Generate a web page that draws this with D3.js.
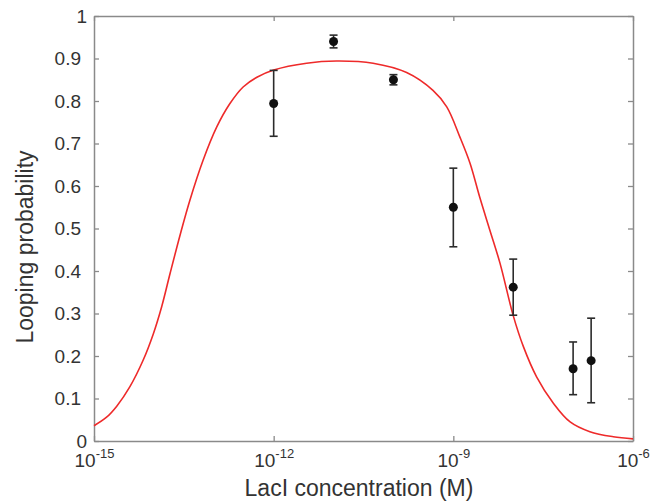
<!DOCTYPE html>
<html>
<head>
<meta charset="utf-8">
<script src="https://cdn.jsdelivr.net/npm/d3@7"></script>
<style>
  body { margin: 0; background: #fff; }
  svg { display: block; font-family: "Liberation Sans", Arial, sans-serif; }
  .tick-label { fill: #333; font-size: 19px; }
  .axis-title { fill: #333; font-size: 23px; }
</style>
</head>
<body>
<svg id="chart"></svg>
<script>
// measured points: LacI concentration (M), looping probability, error bar ends
const conc = [1e-12, 1e-11, 1e-10, 1e-9, 1e-8, 1e-7, 2e-7]
const prob = [0.794, 0.940, 0.850, 0.550, 0.362, 0.170, 0.189]
const errLow = [0.717, 0.925, 0.838, 0.457, 0.296, 0.109, 0.090]
const errHigh = [0.872, 0.955, 0.862, 0.642, 0.428, 0.233, 0.289]

// fitted model curve (log10 of concentration, probability)
const fitLogConc = [-15, -14.79, -14.62, -14.4, -14.18, -14.01, -13.87, -13.73, -13.56, -13.4,
  -13.18, -12.95, -12.73, -12.51, -12.28, -12.0, -11.45, -10.95, -10.34, -9.78, -9.34, -9.11,
  -8.89, -8.72, -8.56, -8.39, -8.22, -8.0, -7.83, -7.61, -7.33, -7.05, -6.72, -6.33, -6]
const fitProb = [0.036, 0.056, 0.082, 0.128, 0.19, 0.252, 0.316, 0.394, 0.486, 0.566,
  0.66, 0.739, 0.794, 0.833, 0.856, 0.873, 0.889, 0.894, 0.889, 0.867, 0.825, 0.786,
  0.715, 0.653, 0.574, 0.496, 0.418, 0.295, 0.222, 0.151, 0.089, 0.045, 0.022, 0.01, 0.005]

const xTicks = [1e-15, 1e-12, 1e-9, 1e-6]
const xTickExp = ['-15', '-12', '-9', '-6']
const yTicks = [0, 0.1, 0.2, 0.3, 0.4, 0.5, 0.6, 0.7, 0.8, 0.9, 1]

const config = {
  width: 659, height: 503,
  margin: {top: 16, right: 26, bottom: 62, left: 94}
}

const innerW = config.width - config.margin.left - config.margin.right
const innerH = config.height - config.margin.top - config.margin.bottom

const svg = d3.select('#chart')
  .attr('width', config.width)
  .attr('height', config.height)

const chart = svg.append('g')
  .attr('transform', `translate(${config.margin.left},${config.margin.top})`)

const xScale = d3.scaleLog().domain([1e-15, 1e-6]).range([0, innerW])
const yScale = d3.scaleLinear().domain([0, 1]).range([innerH, 0])

const axisColor = '#8a8a8a'
const tickLen = 5

// y axis left + mirrored right, ticks pointing inward
const yAxisL = d3.axisLeft(yScale).tickValues(yTicks).tickSizeInner(-tickLen).tickSizeOuter(0)
  .tickFormat(d => d3.format('')(d))
chart.append('g').attr('class', 'axis y-axis').call(yAxisL)
  .call(g => g.selectAll('text').attr('class', 'tick-label')
    .attr('x', d => (d === 0 || d === 1) ? -7 : -13))

const yAxisR = d3.axisRight(yScale).tickValues(yTicks).tickSizeInner(-tickLen).tickSizeOuter(0).tickFormat('')
chart.append('g').attr('class', 'axis y-axis-r')
  .attr('transform', `translate(${innerW},0)`)
  .call(yAxisR)

// x axis bottom + top
const xAxisB = d3.axisBottom(xScale).tickValues(xTicks).tickSizeInner(-tickLen).tickSizeOuter(0).tickFormat('')
const xAxisBG = chart.append('g').attr('class', 'axis x-axis')
  .attr('transform', `translate(0,${innerH})`)
  .call(xAxisB)

xAxisBG.selectAll('.tick').append('text')
  .attr('class', 'tick-label')
  .attr('y', 26)
  .attr('text-anchor', 'middle')
  .style('font-size', '19px')
  .each(function(d, i) {
    const t = d3.select(this)
    t.append('tspan').text('10')
    t.append('tspan').attr('dy', -9).style('font-size', '13px').text(xTickExp[i])
  })

const xAxisT = d3.axisTop(xScale).tickValues(xTicks).tickSizeInner(-tickLen).tickSizeOuter(0).tickFormat('')
chart.append('g').attr('class', 'axis x-axis-t').call(xAxisT)

chart.selectAll('.axis path.domain').attr('stroke', axisColor).attr('stroke-width', 1.5)
chart.selectAll('.axis line').attr('stroke', axisColor).attr('stroke-width', 1.3)
chart.selectAll('.axis .tick text').attr('fill', '#333')

// fit curve
const line = d3.line()
  .x((d, i) => xScale(Math.pow(10, fitLogConc[i])))
  .y(d => yScale(d))
  .curve(d3.curveCatmullRom)

chart.append('path')
  .datum(fitProb)
  .attr('d', line)
  .attr('fill', 'none')
  .attr('stroke', '#ee2a2a')
  .attr('stroke-width', 1.6)

// error bars
const pts = conc.map((c, i) => ({c: c, p: prob[i], lo: errLow[i], hi: errHigh[i]}))
const capW = 4

const eb = chart.selectAll('.errbar')
  .data(pts)
  .join('g')
    .attr('class', 'errbar')
    .attr('stroke', '#2b2b2b')
    .attr('stroke-width', 1.6)

eb.append('line')
  .attr('x1', d => xScale(d.c)).attr('x2', d => xScale(d.c))
  .attr('y1', d => yScale(d.lo)).attr('y2', d => yScale(d.hi))
eb.append('line')
  .attr('x1', d => xScale(d.c) - capW).attr('x2', d => xScale(d.c) + capW)
  .attr('y1', d => yScale(d.lo)).attr('y2', d => yScale(d.lo))
eb.append('line')
  .attr('x1', d => xScale(d.c) - capW).attr('x2', d => xScale(d.c) + capW)
  .attr('y1', d => yScale(d.hi)).attr('y2', d => yScale(d.hi))

chart.selectAll('.dot')
  .data(pts)
  .join('circle')
    .attr('class', 'dot')
    .attr('cx', d => xScale(d.c))
    .attr('cy', d => yScale(d.p))
    .attr('r', 4.5)
    .attr('fill', '#111')

// axis titles
svg.append('text')
  .attr('class', 'axis-title')
  .attr('x', 359)
  .attr('y', 496)
  .attr('text-anchor', 'middle')
  .text('LacI concentration (M)')

svg.append('text')
  .attr('class', 'axis-title')
  .attr('transform', 'translate(33,247) rotate(-90)')
  .attr('text-anchor', 'middle')
  .text('Looping probability')
</script>
</body>
</html>
